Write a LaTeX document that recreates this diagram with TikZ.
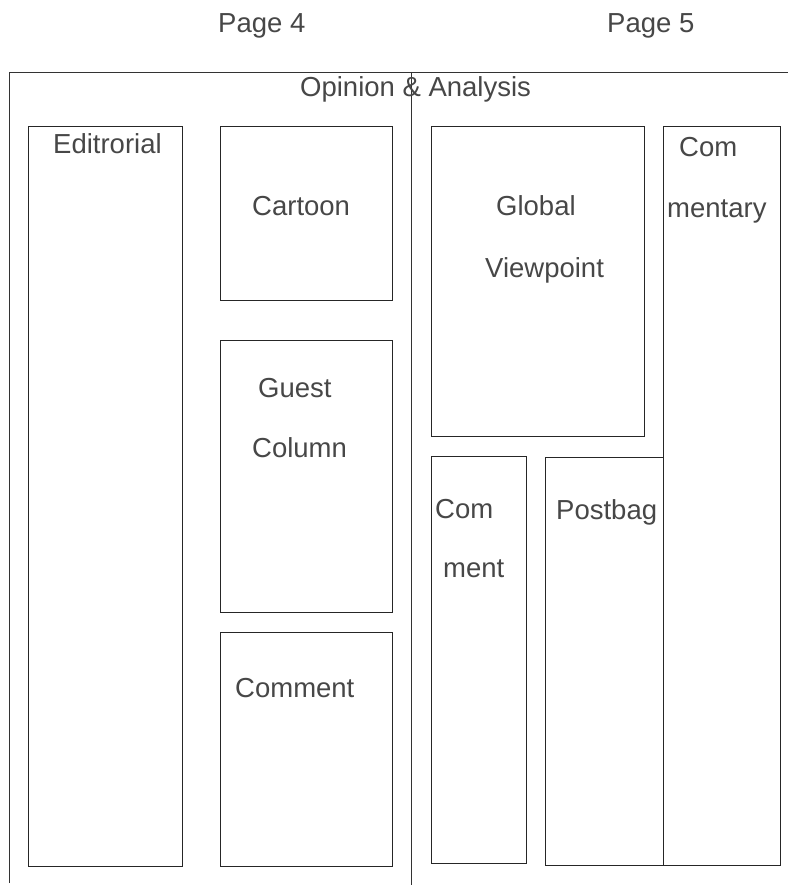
\documentclass[tikz,border=0pt]{standalone}
\usepackage{fontspec}
\setmainfont{Liberation Sans}
\begin{document}
\begin{tikzpicture}[x=1pt,y=-1pt,
  box/.style={draw=black!85, line width=1pt, inner sep=0pt, anchor=north west},
  lbl/.style={inner sep=0pt, anchor=base west, font=\fontsize{27.5}{32}\selectfont, text=black!72},
  frame/.style={draw=black!80, line width=0.9pt}]
\useasboundingbox (0,0) rectangle (788,885);
% frame
\coordinate (ftl) at (9,72);
\coordinate (ftr) at (788,72);
\coordinate (fbl) at (9,883);
\coordinate (dtop) at (411,72);
\coordinate (dbot) at (411,885);
\draw[frame] (fbl) -- (ftl) -- (ftr);
\draw[frame] (dtop) -- (dbot);
% boxes
\node[box, minimum width=154pt, minimum height=740pt] (editorial) at (28,126) {};
\node[box, minimum width=172pt, minimum height=174pt] (cartoon) at (220,126) {};
\node[box, minimum width=172pt, minimum height=272pt] (guest) at (220,340) {};
\node[box, minimum width=172pt, minimum height=234pt] (commentL) at (220,632) {};
\node[box, minimum width=213pt, minimum height=310pt] (global) at (431,126) {};
\node[box, minimum width=117pt, minimum height=739pt] (commentary) at (663,126) {};
\node[box, minimum width=95pt, minimum height=407pt] (commentR) at (431,456) {};
\node[box, minimum width=118pt, minimum height=408pt] (postbag) at (545,457) {};
% texts
\node[lbl] (p4) at (218,33) {Page 4};
\node[lbl] (p5) at (607,33) {Page 5};
\node[lbl] (oa) at (300,97) {Opinion \& Analysis};
\node[lbl] (t1) at (53,154) {Editrorial};
\node[lbl] (t2) at (252,216) {Cartoon};
\node[lbl] (t3) at (258,397) {Guest};
\node[lbl] (t4) at (252,457) {Column};
\node[lbl] (t5) at (235,697) {Comment};
\node[lbl] (t6) at (496,216) {Global};
\node[lbl] (t7) at (485,277) {Viewpoint};
\node[lbl] (t8) at (679,157) {Com};
\node[lbl] (t9) at (667,218) {mentary};
\node[lbl] (t10) at (435,518) {Com};
\node[lbl] (t11) at (443,577) {ment};
\node[lbl] (t12) at (556,519) {Postbag};
\end{tikzpicture}
\end{document}
